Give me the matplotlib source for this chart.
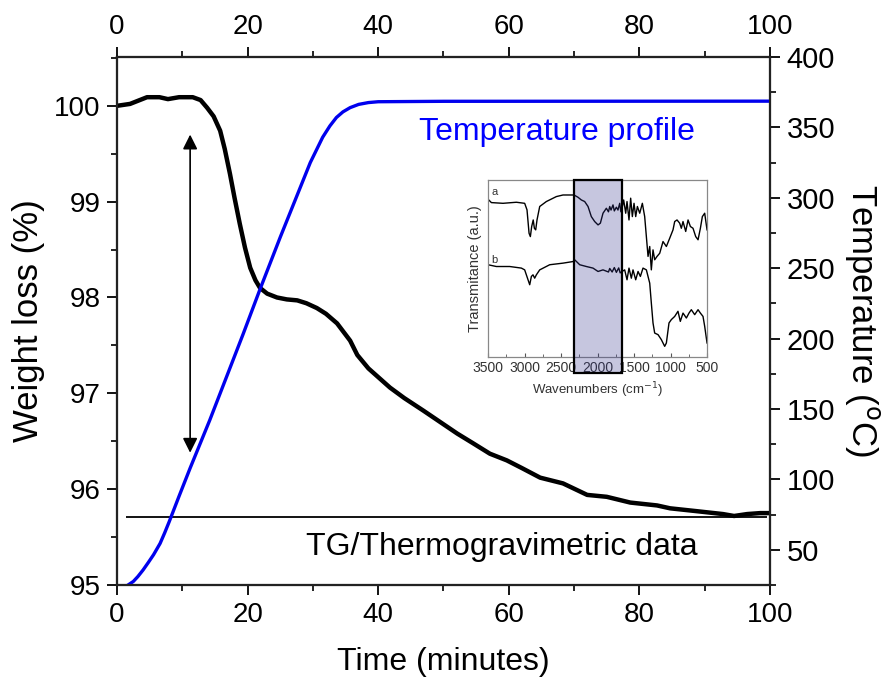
import numpy as np
import matplotlib
matplotlib.use("Agg")
import matplotlib.pyplot as plt
from matplotlib import ticker, transforms
from matplotlib.patches import Rectangle

plt.rcParams['font.family'] = ['Liberation Sans', 'DejaVu Sans']

# TG weight curve (time in minutes, weight %)
tg_time = [0.0, 2.0, 4.6, 6.5, 7.8, 9.5, 11.6, 12.8, 13.8, 14.8, 15.8, 16.5, 17.3, 18.0, 18.8, 19.6,
           20.4, 21.2, 21.9, 23.0, 24.5, 26.0, 27.6, 29.0, 30.6, 32.0, 33.7, 35.7, 36.8, 38.5, 41.8,
           44.0, 46.9, 49.5, 52.1, 54.5, 57.1, 59.7, 62.0, 64.8, 68.3, 72.0, 75.0, 78.6, 82.7,
           84.7, 88.8, 92.8, 94.5, 96.5, 98.5, 100.0]
tg_weight = [100.00, 100.02, 100.09, 100.09, 100.07, 100.09, 100.09, 100.06, 99.98, 99.89, 99.74,
             99.55, 99.29, 99.04, 98.77, 98.52, 98.31, 98.18, 98.10, 98.04, 98.00, 97.98, 97.97,
             97.94, 97.89, 97.83, 97.73, 97.55, 97.40, 97.26, 97.06, 96.95, 96.82, 96.70, 96.58,
             96.48, 96.37, 96.30, 96.22, 96.12, 96.06, 95.94, 95.92, 95.86, 95.83, 95.80, 95.77,
             95.74, 95.72, 95.74, 95.75, 95.75]

# furnace temperature profile (deg C)
temp_time = [1.7, 2.5, 3.2, 4.0, 4.8, 5.6, 6.6, 7.3, 8.0, 9.5, 11.2, 14.2, 19.3, 21.9, 25.0,
             29.6, 31.5, 32.6, 33.6, 34.6, 35.7, 37.0, 38.5, 40.0, 50.0, 100.0]
temp_c = [25, 27.5, 31, 35.7, 41, 46.5, 54.5, 62, 70, 88, 108, 142, 203, 235, 272,
          325, 343, 351, 357, 361, 364, 366.3, 367.6, 368.2, 368.5, 368.6]

baseline_weight = 95.71
arrow_top, arrow_bottom, arrow_time = 99.70, 96.38, 11.2

# inset FTIR spectra
wn_a = [3500, 3454, 3295, 3112, 2998, 2966, 2938, 2920, 2902, 2881, 2865, 2847, 2829, 2792, 2701,
        2564, 2473, 2322, 2267, 2222, 2176, 2130, 2085, 2039, 1993, 1961, 1925, 1879, 1850, 1833,
        1815, 1788, 1770, 1742, 1720, 1696, 1680, 1664, 1642, 1614, 1596, 1569, 1546, 1523, 1500,
        1477, 1454, 1422, 1386, 1354, 1331, 1308, 1285, 1263, 1240, 1217, 1185, 1148, 1103, 1057,
        1011, 966, 943, 911, 875, 852, 829, 792, 760, 728, 692, 655, 623, 591, 564, 532, 500]
tr_a = [89.1, 87.2, 86.8, 87.4, 86.8, 83.1, 69.9, 68.0, 73.7, 77.4, 72.7, 71.8, 77.4, 85.0, 87.8,
        90.6, 91.5, 91.5, 90.2, 88.7, 87.8, 85.0, 79.3, 76.5, 74.6, 75.6, 81.2, 84.0, 82.0, 85.0,
        83.0, 85.9, 82.5, 84.6, 83.0, 86.8, 82.0, 84.0, 88.7, 81.2, 87.8, 77.4, 89.7, 79.3, 86.8,
        79.3, 85.0, 81.2, 86.8, 79.3, 68.0, 56.8, 62.4, 49.2, 60.5, 54.9, 56.8, 58.6, 65.2, 62.4,
        67.1, 71.8, 76.5, 77.4, 75.6, 72.7, 76.5, 70.9, 77.4, 73.7, 72.7, 68.0, 66.2, 72.7, 79.3,
        81.2, 71.8]
wn_b = [3500, 3386, 3203, 3043, 2998, 2952, 2929, 2906, 2884, 2861, 2838, 2792, 2655, 2473, 2336,
        2313, 2244, 2153, 2062, 1993, 1925, 1850, 1833, 1800, 1770, 1742, 1710, 1690, 1664, 1628,
        1596, 1569, 1537, 1514, 1477, 1445, 1413, 1377, 1331, 1285, 1263, 1240, 1217, 1171, 1126,
        1080, 1057, 1021, 989, 943, 898, 866, 829, 783, 747, 715, 669, 623, 591, 555, 532, 500]
tr_b = [52.1, 51.1, 51.1, 50.2, 49.2, 43.6, 40.8, 45.5, 46.4, 44.5, 46.4, 49.2, 52.1, 53.0, 53.9,
        54.9, 52.1, 51.1, 50.2, 48.3, 49.2, 48.0, 50.0, 48.0, 50.5, 47.8, 50.3, 47.5, 48.3, 49.2,
        43.6, 50.2, 44.5, 49.2, 43.6, 48.3, 45.5, 50.2, 49.2, 41.7, 30.5, 19.2, 13.5, 12.6, 9.8,
        6.0, 7.9, 19.2, 21.1, 22.9, 25.8, 20.1, 24.8, 22.0, 24.8, 26.7, 23.9, 26.7, 24.8, 22.9,
        17.3, 7.9]
band_lo, band_hi = 1665, 2320

fig = plt.figure(figsize=(8.87, 6.78), dpi=100)
ax = fig.add_axes([0.1319, 0.1372, 0.7362, 0.7788])

ax.plot(tg_time, tg_weight, color='black', lw=3.2, solid_capstyle='round', zorder=3)
ax.hlines(baseline_weight, 1.4, 99.5, color='black', lw=1.3)
ax.annotate('', xy=(arrow_time, arrow_top), xytext=(arrow_time, arrow_bottom),
            arrowprops=dict(arrowstyle='<|-|>', color='black', lw=1.2, mutation_scale=22,
                            shrinkA=0, shrinkB=0))
ax.text(59, 95.4, 'TG/Thermogravimetric data', fontsize=23, ha='center', va='center')
ax.text(67.4, 99.73, 'Temperature profile', fontsize=23, ha='center', va='center', color='#0000ff')

ax.set_xlim(0, 100)
ax.set_ylim(95, 100.51)
ax.xaxis.set_major_locator(ticker.MultipleLocator(20))
ax.xaxis.set_minor_locator(ticker.MultipleLocator(10))
ax.yaxis.set_major_locator(ticker.MultipleLocator(1))
ax.yaxis.set_minor_locator(ticker.MultipleLocator(0.5))
ax.set_xlabel('Time (minutes)', fontsize=23)
ax.set_ylabel('Weight loss (%)', fontsize=25)
ax.xaxis.set_label_coords(0.5, -0.118)
ax.yaxis.set_label_coords(-0.110, 0.5)

ax2 = ax.twinx()
ax2.plot(temp_time, temp_c, color='#0000ee', lw=2.4, zorder=4)
ax2.set_ylim(25, 400)
ax2.yaxis.set_minor_locator(ticker.MultipleLocator(25))
ax2.set_yticks([50, 100, 150, 200, 250, 300, 350, 400])
ax2.set_ylabel('Temperature ($^{\\mathrm{o}}$C)', fontsize=25, rotation=270)
ax2.yaxis.set_label_coords(1.171, 0.5)

ax3 = ax.twiny()
ax3.set_xlim(0, 100)
ax3.xaxis.set_major_locator(ticker.MultipleLocator(20))
ax3.xaxis.set_minor_locator(ticker.MultipleLocator(10))

for a in (ax, ax2, ax3):
    a.tick_params(which='major', direction='out', length=7, width=1.3, labelsize=20, pad=5)
    a.tick_params(which='minor', direction='out', length=4, width=1.2)
    for s in a.spines.values():
        s.set_linewidth(1.5)
        s.set_color('#222222')
ax2.tick_params(which='major', labelsize=21)

# inset FTIR
ins = fig.add_axes([0.5502, 0.4735, 0.2469, 0.2611])
ins.plot(wn_a, tr_a, color='black', lw=1.0)
ins.plot(wn_b, tr_b, color='black', lw=1.0)
ins.set_xlim(3500, 500)
ins.set_ylim(0, 100)
ins.set_yticks([])
ins.xaxis.set_major_locator(ticker.MultipleLocator(500))
ins.xaxis.set_minor_locator(ticker.MultipleLocator(250))
ins.tick_params(which='major', direction='in', length=3, labelsize=10, colors='#555555',
                labelcolor='#333333', pad=3)
ins.tick_params(which='minor', direction='in', length=2, colors='#555555')
for s in ins.spines.values():
    s.set_color('#888888')
    s.set_linewidth(0.9)
ins.set_xlabel('Wavenumbers (cm$^{-1}$)', fontsize=9.5, color='#333333', labelpad=4)
ins.set_ylabel('Transmitance (a.u.)', fontsize=10.5, color='#333333', labelpad=4)
ins.text(0.015, 0.93, 'a', transform=ins.transAxes, fontsize=8, color='#333333', va='center')
ins.text(0.015, 0.55, 'b', transform=ins.transAxes, fontsize=8, color='#333333', va='center')
trans = transforms.blended_transform_factory(ins.transData, ins.transAxes)
ins.add_patch(Rectangle((band_hi, -0.09), band_lo - band_hi, 1.09, transform=trans,
                        facecolor=(0.2, 0.2, 0.55, 0.28), edgecolor='black', lw=1.6,
                        clip_on=False, zorder=5))

fig.savefig('out.png', dpi=100)
